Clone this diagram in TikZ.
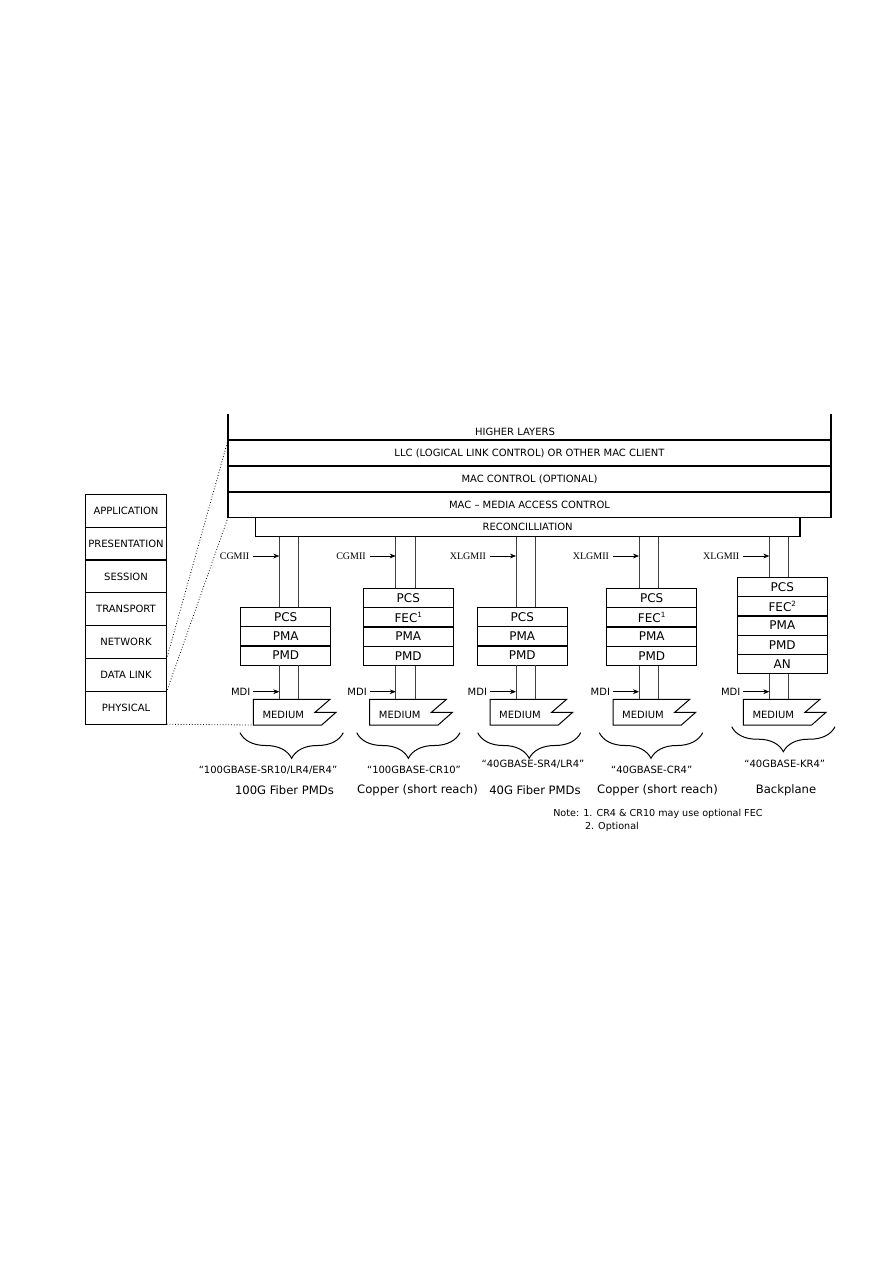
\documentclass[tikz,border=0pt]{standalone}
\usepackage{fontspec}
\setmainfont{DejaVu Sans}
\newfontfamily\miifont{Liberation Serif}
\usetikzlibrary{arrows.meta, decorations.pathreplacing, positioning}

\newcommand\fnmark[1]{\raisebox{0.75ex}{\fontsize{3.6}{4}\selectfont #1}}

\begin{document}
\begin{tikzpicture}[
    x=0.5pt, y=-0.5pt,
    every node/.style={font=\fontsize{5}{6}\selectfont, inner sep=0pt, outer sep=0pt},
    >={Stealth[length=3pt, width=2.4pt]},
    osibox/.style={draw, line width=0.6pt, minimum width=40.7pt, minimum height=16.43pt},
    toplayer/.style={draw, line width=0.6pt, minimum width=301.5pt, minimum height=13pt},
    sublayer/.style={draw, line width=0.6pt, minimum width=45pt, minimum height=9.65pt,
        font=\fontsize{6}{7}\selectfont},
    vline/.style={line width=0.45pt, black!75},
    iface/.style={->, line width=0.35pt},
    zoomline/.style={densely dotted, line width=0.4pt},
    pmdbrace/.style={decorate, decoration={brace, mirror, amplitude=12.8pt}, line width=0.5pt},
    miitext/.style={font=\miifont\fontsize{5}{6}\selectfont},
    pmdname/.style={font=\fontsize{5.8}{7}\selectfont},
]
\useasboundingbox (0,0) rectangle (893,1263);

% === OSI reference model ===
\node[osibox] (app) at (126,510.7) {APPLICATION};
\node[osibox, below=0pt of app] (pres) {PRESENTATION};
\node[osibox, below=0pt of pres] (sess) {SESSION};
\node[osibox, below=0pt of sess] (trans) {TRANSPORT};
\node[osibox, below=0pt of trans] (net) {NETWORK};
\node[osibox, below=0pt of net] (dlink) {DATA LINK};
\node[osibox, below=0pt of dlink] (phys) {PHYSICAL};

% === IEEE 802.3 layers ===
\node (higher) at (515,432) {HIGHER LAYERS};
\node[toplayer] (llc) at (529.5,453) {LLC (LOGICAL LINK CONTROL) OR OTHER MAC CLIENT};
\node[toplayer, below=0pt of llc] (macc) {MAC CONTROL (OPTIONAL)};
\node[toplayer, below=0pt of macc, minimum height=12.7pt] (mac) {MAC -- MEDIA ACCESS CONTROL};
\draw[line width=0.6pt] (llc.north west) -- ++(0,-26);
\draw[line width=0.6pt] (llc.north east) -- ++(0,-26);
\node[draw, line width=0.6pt, minimum width=272.35pt, minimum height=9.7pt, anchor=north]
    (recon) at (mac.south -| 527.65,0) {RECONCILLIATION};

% === PHY stacks ===
\node[sublayer, anchor=north] (pcs1) at (285.7,607.3) {PCS};
\node[sublayer, below=0pt of pcs1] (pma1) {PMA};
\node[sublayer, below=0pt of pma1] (pmd1) {PMD};

\node[sublayer, anchor=north] (pcs2) at (408.3,588.3) {PCS};
\node[sublayer, below=0pt of pcs2] (fec2) {FEC\fnmark{1}};
\node[sublayer, below=0pt of fec2] (pma2) {PMA};
\node[sublayer, below=0pt of pma2] (pmd2) {PMD};

\node[sublayer, anchor=north] (pcs3) at (522.3,607.3) {PCS};
\node[sublayer, below=0pt of pcs3] (pma3) {PMA};
\node[sublayer, below=0pt of pma3] (pmd3) {PMD};

\node[sublayer, anchor=north] (pcs4) at (651.7,588.3) {PCS};
\node[sublayer, below=0pt of pcs4] (fec4) {FEC\fnmark{1}};
\node[sublayer, below=0pt of fec4] (pma4) {PMA};
\node[sublayer, below=0pt of pma4] (pmd4) {PMD};

\node[sublayer, anchor=north] (pcs5) at (782.3,577.3) {PCS};
\node[sublayer, below=0pt of pcs5] (fec5) {FEC\fnmark{2}};
\node[sublayer, below=0pt of fec5] (pma5) {PMA};
\node[sublayer, below=0pt of pma5] (pmd5) {PMD};
\node[sublayer, below=0pt of pmd5] (an5) {AN};

% === Interfaces, links and media ===
\foreach \x/\i/\bot/\mii in {279.3/1/pmd1/CGMII, 395.7/2/pmd2/CGMII, 516/3/pmd3/XLGMII,
                             639/4/pmd4/XLGMII, 769.3/5/an5/XLGMII} {
  \coordinate (vl\i) at (\x,0);
  \coordinate (vr\i) at (\x+19.5,0);
  \coordinate (medtop\i) at (\x,699.3);
  \coordinate (medbl\i) at (\x-26,725);
  \draw[vline] (recon.south -| vl\i) -- (pcs\i.north -| vl\i);
  \draw[vline] (recon.south -| vr\i) -- (pcs\i.north -| vr\i);
  \draw[vline] (\bot.south -| vl\i) -- (medtop\i);
  \draw[vline] (\bot.south -| vr\i) -- (medtop\i -| vr\i);
  \node[miitext, anchor=east] (mii\i) at (\x-30,556) {\mii};
  \draw[iface] ([xshift=2pt]mii\i.east) -- (vl\i |- mii\i.east);
  \node[anchor=east] (mdi\i) at (\x-29,691.7) {MDI};
  \draw[iface] ([xshift=1.5pt]mdi\i.east) -- (vl\i |- mdi\i.east);
  \draw[line width=0.5pt] (medbl\i) -- (\x-26,699.3) -- (\x+50.7,699.3) -- (\x+35.7,712.3)
      -- (\x+56.7,712.3) -- (\x+42.4,725) -- cycle;
  \node (med\i) at (\x+4,714.5) {MEDIUM};
}

% === OSI mapping (dotted) ===
\draw[zoomline] (llc.north west) -- (dlink.north east);
\draw[zoomline] (mac.south west) -- (phys.north east);
\draw[zoomline] (phys.south east) -- (medbl1);

% === PMD families ===
\draw[pmdbrace] (240,732.7) -- (343.3,732.7);
\draw[pmdbrace] (356.7,732.7) -- (460,732.7);
\draw[pmdbrace] (477.7,732.7) -- (580.7,732.7);
\draw[pmdbrace] (599.3,732.7) -- (702.7,732.7);
\draw[pmdbrace, decoration={amplitude=12.5pt}] (731.7,726.7) -- (835,726.7);

\node (q1) at (268,770) {“100GBASE-SR10/LR4/ER4”};
\node[pmdname] (n1) at (284.5,790.5) {100G Fiber PMDs};
\node (q2) at (414,770) {“100GBASE-CR10”};
\node[pmdname] (n2) at (417.5,790.5) {Copper (short reach)};
\node (q3) at (533,764.5) {“40GBASE-SR4/LR4”};
\node[pmdname] (n3) at (535,790.5) {40G Fiber PMDs};
\node (q4) at (651.7,770) {“40GBASE-CR4”};
\node[pmdname] (n4) at (657.5,790.5) {Copper (short reach)};
\node (q5) at (784.7,764.3) {“40GBASE-KR4”};
\node[pmdname] (n5) at (786,790.5) {Backplane};

% === Note ===
\node[anchor=west, font=\fontsize{4.8}{6}\selectfont] (note1) at (553.3,814.3)
    {Note: 1. CR4 \& CR10 may use optional FEC};
\node[anchor=west, font=\fontsize{4.8}{6}\selectfont] (note2) at (585,827.3) {2. Optional};

\end{tikzpicture}
\end{document}
